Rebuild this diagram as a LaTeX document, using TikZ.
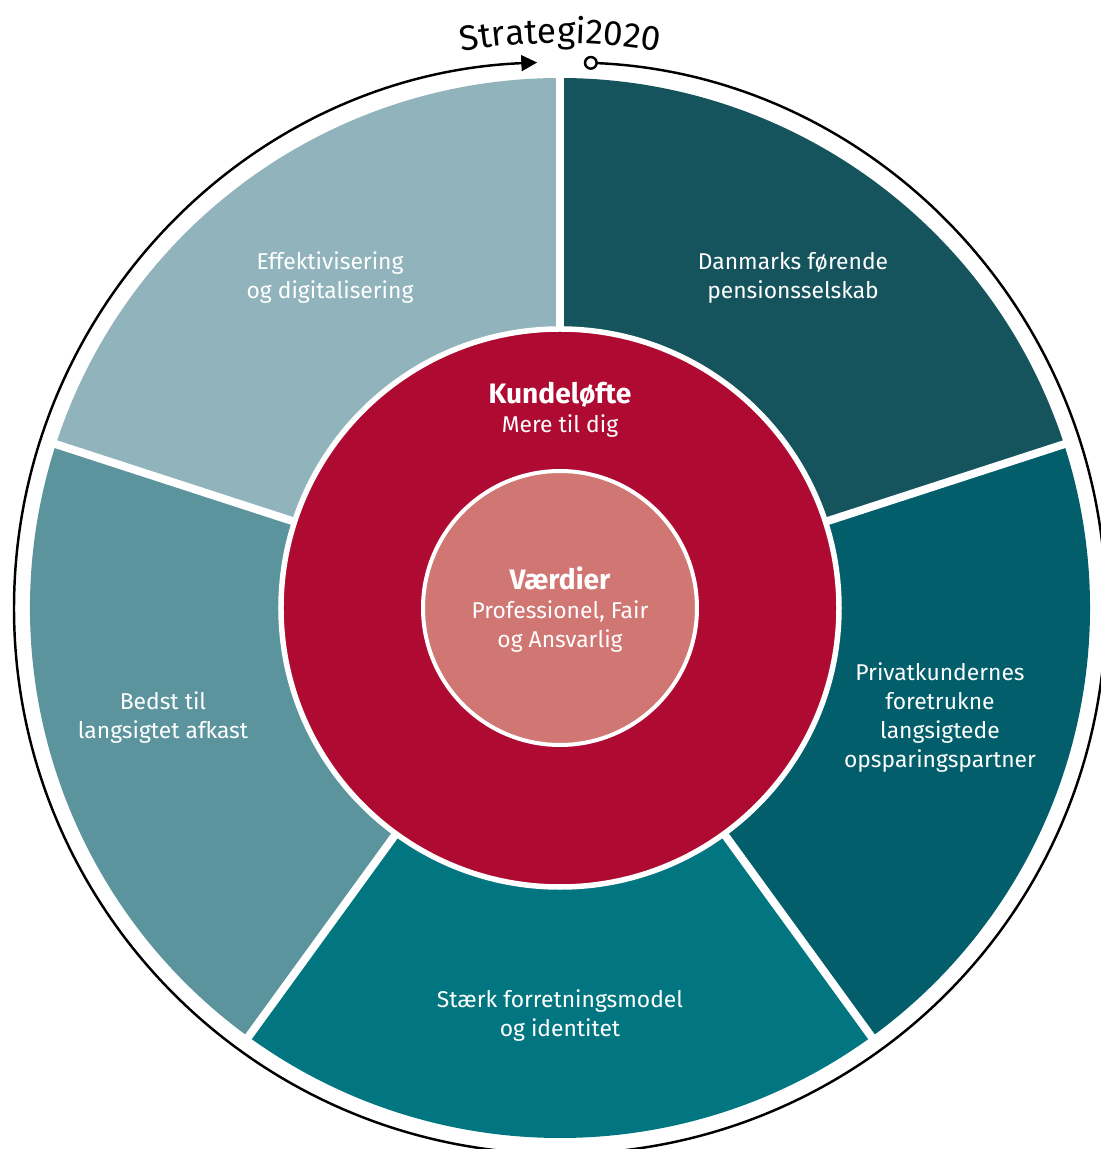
\documentclass[tikz,border=0pt]{standalone}
\usepackage{fontspec}
\setmainfont{Fira Sans}
\usepackage{xcolor}
\usetikzlibrary{arrows.meta,decorations.text}

\definecolor{segLight}{HTML}{91B4BC}
\definecolor{segDark}{HTML}{16545D}
\definecolor{segRight}{HTML}{015E6A}
\definecolor{segBottom}{HTML}{027680}
\definecolor{segLeft}{HTML}{5B949D}
\definecolor{kundeRed}{HTML}{AF0A32}
\definecolor{vaerdiPink}{HTML}{D07673}

\begin{document}
\begin{tikzpicture}[x=0.02cm,y=0.02cm,
		segtext/.style={text=white,align=center,font=\fontsize{13}{16.5}\selectfont},
		gapline/.style={white,line width=0.16cm}]
		\useasboundingbox (-560,-541) rectangle (540,608);
		% ydre ring med pil
		\draw[line width=1.4pt,{Circle[open,length=8pt]}-{Triangle[length=9pt,width=9pt]}]
			(87.5:546) arc[start angle=87.5,end angle=-267.6,radius=546];
		\path[decorate,decoration={text along path,text align=center,
			text={|\fontsize{20}{22}\selectfont|Strategi2020}}]
			(101:565) arc[start angle=101,end angle=79,radius=565];
		% segmenter
		\foreach \a/\c in {18/segDark,90/segLight,162/segLeft,234/segBottom,306/segRight}
		\fill[\c] (0,0) -- (\a:530) arc[start angle=\a,end angle=\a+72,radius=530] -- cycle;
		\foreach \a in {18,90,162,234,306}
		\draw[gapline] (0,0) -- (\a:540);
		% kundeloefte og vaerdier
		\filldraw[fill=kundeRed,draw=white,line width=0.11cm] (0,0) circle[radius=279];
		\filldraw[fill=vaerdiPink,draw=white,line width=0.08cm] (0,0) circle[radius=137];
		\node[segtext] (effekt) at (-230,330) {Effektivisering\\og digitalisering};
		\node[segtext] (danmark) at (233,330) {Danmarks førende\\pensionsselskab};
		\node[segtext] (privat) at (380,-110) {Privatkundernes\\foretrukne\\langsigtede\\opsparingspartner};
		\node[segtext] (staerk) at (0,-408) {Stærk forretningsmodel\\og identitet};
		\node[segtext] (bedst) at (-397,-110) {Bedst til\\langsigtet afkast};
		\node[segtext] (kunde) at (0,198) {{\fontsize{16}{18}\selectfont\bfseries Kundeløfte}\\Mere til dig};
		\node[segtext] (vaerdi) at (0,-2) {{\fontsize{16}{18}\selectfont\bfseries Værdier}\\Professionel, Fair\\og Ansvarlig};
\end{tikzpicture}
\end{document}
